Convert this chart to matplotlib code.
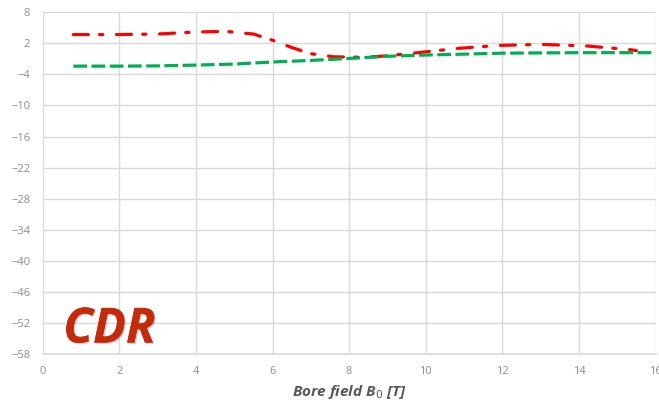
import numpy as np
import matplotlib.pyplot as plt
import matplotlib.patheffects as pe

# valeurs
b_red = [0.8, 2.0, 3.0, 4.0, 4.8, 5.5, 6.0, 6.5, 7.0, 7.6, 8.4, 9.0, 9.8, 10.8, 11.9, 13.0, 14.2, 15.3, 15.5]
v_red = [3.7, 3.7, 3.8, 4.2, 4.3, 3.8, 2.6, 1.2, 0.0, -0.6, -0.7, -0.4, 0.2, 1.0, 1.6, 1.8, 1.5, 0.8, 0.6]

b_green = [0.8, 2.0, 3.0, 4.0, 5.0, 5.5, 6.0, 7.0, 7.8, 9.0, 9.8, 10.6, 12.0, 14.0, 16.0]
v_green = [-2.4, -2.4, -2.35, -2.2, -2.0, -1.8, -1.6, -1.3, -1.0, -0.5, -0.3, -0.15, 0.1, 0.2, 0.2]

yticks = [8, 2, -4, -10, -16, -22, -28, -34, -40, -46, -52, -58]
xticks = [0, 2, 4, 6, 8, 10, 12, 14, 16]

fig = plt.figure(figsize=(6.59, 4.04), dpi=100)
ax = fig.add_axes([0.0648, 0.1238, 0.9300, 0.8458])

ax.plot(b_red, v_red, color='#FF0000', lw=2.3, dashes=(4.7, 3.5, 1, 4.3),
        dash_capstyle='round')
ax.plot(b_green, v_green, color='#00B050', lw=2.3, dashes=(4.3, 1.4))

ax.set_xlim(0, 16)
ax.set_ylim(-58, 8)
ax.set_xticks(xticks)
ax.set_yticks(yticks)
ax.grid(True, color='#D9D9D9', lw=1)
ax.set_axisbelow(True)
for s in ['top', 'right', 'left']:
    ax.spines[s].set_visible(False)
ax.spines['bottom'].set_color('#D9D9D9')
ax.spines['bottom'].set_linewidth(1.2)
ax.tick_params(length=0, colors='#8C8C8C', labelsize=8, pad=9)
for lab in ax.get_xticklabels() + ax.get_yticklabels():
    lab.set_family(['Open Sans', 'DejaVu Sans'])

ax.set_xlabel('Bore field B$_0$ [T]', fontsize=11, fontweight='bold',
              fontstyle='italic', color='#595959', labelpad=4,
              family=['Open Sans', 'DejaVu Sans'])

txt = fig.text(0.096, 0.152, 'CDR', fontsize=35, fontweight='bold',
               fontstyle='italic', color='#C42B0C',
               family=['Open Sans', 'DejaVu Sans'])
txt.set_path_effects([pe.withSimplePatchShadow(offset=(1, -1), alpha=0.2),
                      pe.Normal()])

fig.savefig('out.png', dpi=100)
